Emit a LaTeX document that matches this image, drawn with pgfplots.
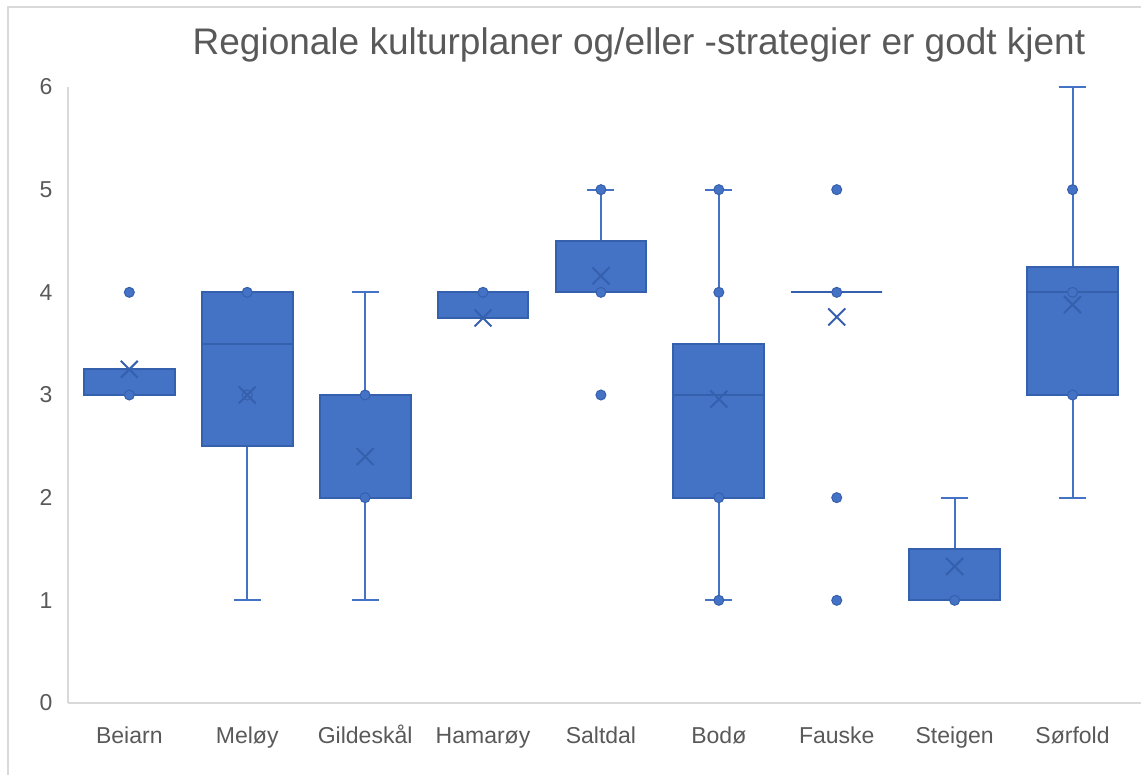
\documentclass[border=0pt]{standalone}
\usepackage{pgfplots}
\pgfplotsset{compat=1.18}
\usepgfplotslibrary{statistics}
\usepackage{fontspec}
\setmainfont{Liberation Sans}
\definecolor{boxblue}{HTML}{4472C4}
\definecolor{boxedge}{HTML}{3560AE}
\definecolor{txt}{HTML}{595959}
\definecolor{axgray}{HTML}{D9D9D9}
\begin{document}
\begin{tikzpicture}
\useasboundingbox (0pt,0pt) rectangle (1141pt,775pt);
\draw[axgray, line width=1.2pt] (8pt,0pt) -- (8pt,768pt) -- (1141pt,768pt);
\node[anchor=base, text=txt, font=\fontsize{37}{42}\selectfont] at (639pt,720pt) {Regionale kulturplaner og/eller -strategier er godt kjent};
\begin{axis}[
  at={(68pt,72pt)}, anchor=south west,
  scale only axis, width=1073pt, height=616pt,
  xmin=-0.52, xmax=8.58, ymin=0, ymax=6,
  axis x line=bottom, axis y line=left,
  axis line style={axgray, line width=1.2pt, -},
  xtick={0,1,2,3,4,5,6,7,8},
  xticklabels={Beiarn,Meløy,Gildeskål,Hamarøy,Saltdal,Bodø,Fauske,Steigen,Sørfold},
  ytick={0,1,2,3,4,5,6},
  major tick length=0pt,
  tick label style={text=txt, font=\fontsize{23}{27}\selectfont},
  /pgf/number format/assume math mode=true,
  xticklabel style={anchor=base, yshift=-41pt},
  yticklabel style={xshift=-12pt},
  clip=false,
  boxplot/draw direction=y,
  boxplot/box extend=0.77,
  boxplot/whisker extend=0.23,
  boxplot/every whisker/.style={draw=boxblue, line width=2pt},
  boxplot/every median/.style={draw=boxedge, line width=2pt},
  boxplot/every box/.style={draw=boxedge, fill=boxblue, line width=2pt},
]
\addplot[boxplot prepared={draw position=0, lower whisker=3, lower quartile=3, median=3, upper quartile=3.25, upper whisker=3.25}] coordinates {};
\addplot[boxplot prepared={draw position=1, lower whisker=1, lower quartile=2.5, median=3.5, upper quartile=4, upper whisker=4}] coordinates {};
\addplot[boxplot prepared={draw position=2, lower whisker=1, lower quartile=2, median=2, upper quartile=3, upper whisker=4}] coordinates {};
\addplot[boxplot prepared={draw position=3, lower whisker=3.75, lower quartile=3.75, median=4, upper quartile=4, upper whisker=4}] coordinates {};
\addplot[boxplot prepared={draw position=4, lower whisker=4, lower quartile=4, median=4, upper quartile=4.5, upper whisker=5}] coordinates {};
\addplot[boxplot prepared={draw position=5, lower whisker=1, lower quartile=2, median=3, upper quartile=3.5, upper whisker=5}] coordinates {};
\addplot[boxplot prepared={draw position=6, lower whisker=4, lower quartile=4, median=4, upper quartile=4, upper whisker=4}] coordinates {};
\addplot[boxplot prepared={draw position=7, lower whisker=1, lower quartile=1, median=1, upper quartile=1.5, upper whisker=2}] coordinates {};
\addplot[boxplot prepared={draw position=8, lower whisker=2, lower quartile=3, median=4, upper quartile=4.25, upper whisker=6}] coordinates {};
% data points
\addplot[only marks, mark=*, mark size=5pt, mark options={fill=boxblue, draw=boxedge, line width=1pt}] coordinates {
(0,4) (0,3)
(1,4) (1,3)
(2,3) (2,2)
(3,4)
(4,5) (4,4) (4,3)
(5,5) (5,4) (5,2) (5,1)
(6,5) (6,4) (6,2) (6,1)
(7,1)
(8,5) (8,4) (8,3)
};
% means
\addplot[only marks, mark=x, mark size=12pt, mark options={draw=boxedge, line width=2pt}] coordinates {
(0,3.25) (1,3.0) (2,2.40) (3,3.75) (4,4.16) (5,2.96) (6,3.76) (7,1.33) (8,3.88)
};
\end{axis}
\end{tikzpicture}
\end{document}
